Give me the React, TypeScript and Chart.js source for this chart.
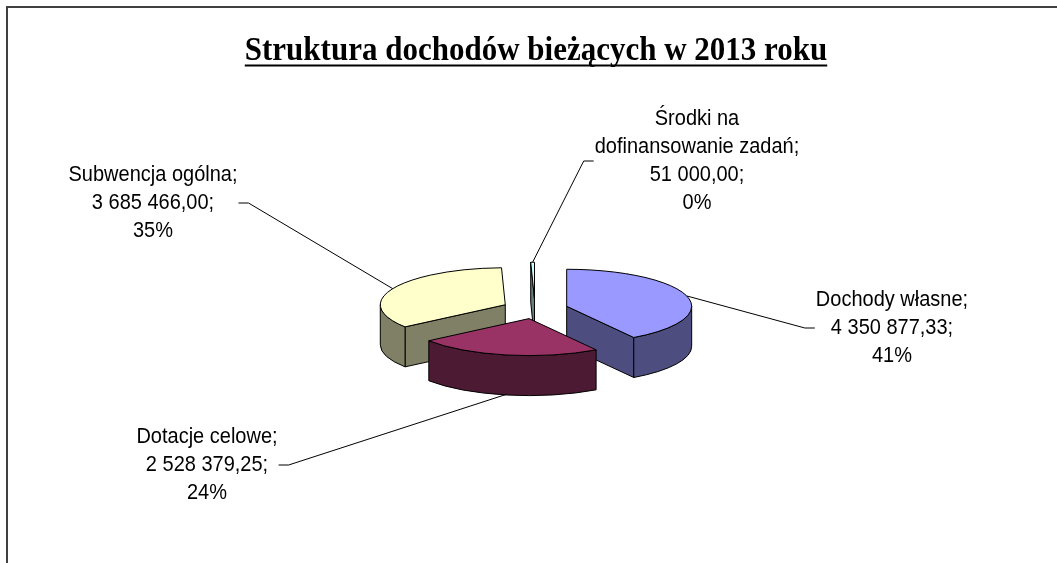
import React, { useEffect, useRef } from 'react';
import { Chart, registerables } from 'chart.js';

Chart.register(...registerables);

// ---------- data ----------
const TITLE = 'Struktura dochodów bieżących w 2013 roku';
const CATEGORIES = ['Dochody własne', 'Dotacje celowe', 'Subwencja ogólna', 'Środki na dofinansowanie zadań'];
const VALUES = [4350877.33, 2528379.25, 3685466.0, 51000.0];
const COLORS = ['#9999FF', '#993366', '#FFFFCC', '#CCFFFF'];

// ---------- layout / style ----------
const W = 1057;
const H = 563;
const RADIUS = 125;
const EXPLODE = 33;
const TILT = 0.296;
const DEPTH = 40;
const LABEL_POS = [
  { x: 892, y: 327 },
  { x: 207, y: 464 },
  { x: 153, y: 202 },
  { x: 697, y: 160 },
];
const LABEL_FONT = '20px "Liberation Sans", Arial, sans-serif';
const LABEL_LH = 27.7;
const LABEL_SY = 1.12;
const LABEL_WRAP = 212;
const TITLE_FONT = 'bold 31px "Liberation Serif", "Times New Roman", serif';
const TITLE_SY = 1.08;

function darken(hex: string, f = 0.5) {
  const n = parseInt(hex.slice(1), 16);
  const r = Math.round(((n >> 16) & 255) * f);
  const g = Math.round(((n >> 8) & 255) * f);
  const b = Math.round((n & 255) * f);
  return `rgb(${r},${g},${b})`;
}

function fmt(v: number) {
  const [i, d] = v.toFixed(2).split('.');
  return i.replace(/\B(?=(\d{3})+(?!\d))/g, ' ') + ',' + d;
}

function wrap(ctx: CanvasRenderingContext2D, text: string, max: number) {
  const words = text.split(' ');
  const lines: string[] = [];
  let cur = '';
  for (const w of words) {
    const t = cur ? cur + ' ' + w : w;
    if (cur && ctx.measureText(t).width > max) {
      lines.push(cur);
      cur = w;
    } else cur = t;
  }
  if (cur) lines.push(cur);
  return lines;
}

function stretchedText(ctx: CanvasRenderingContext2D, text: string, x: number, y: number, sy: number) {
  ctx.save();
  ctx.translate(x, y);
  ctx.scale(1, sy);
  ctx.fillText(text, 0, 0);
  ctx.restore();
}

function getSlices(chart: any) {
  const meta = chart.getDatasetMeta(0);
  return meta.data.map((arc: any, i: number) => {
    const p = arc.getProps(['x', 'y', 'startAngle', 'endAngle', 'outerRadius'], true);
    const off = arc.options.offset || 0;
    const mid = (p.startAngle + p.endAngle) / 2;
    return {
      i,
      s: p.startAngle,
      e: p.endAngle,
      r: p.outerRadius,
      mid,
      cx: p.x + off * Math.cos(mid),
      cy: p.y + off * Math.sin(mid) * TILT,
      color: arc.options.backgroundColor as string,
    };
  });
}

const pie3d = {
  id: 'pie3d',
  beforeDatasetsDraw(chart: any) {
    const ctx: CanvasRenderingContext2D = chart.ctx;
    const slices = getSlices(chart).sort((a: any, b: any) => a.cy - b.cy);
    ctx.save();
    ctx.lineWidth = 1;
    ctx.strokeStyle = '#000';
    ctx.lineJoin = 'round';
    for (const sl of slices) {
      const { cx, cy, r, s, e } = sl;
      const ry = r * TILT;
      const side = darken(sl.color);
      const cut = (t: number) => {
        const px = cx + r * Math.cos(t);
        const py = cy + ry * Math.sin(t);
        ctx.beginPath();
        ctx.moveTo(cx, cy);
        ctx.lineTo(px, py);
        ctx.lineTo(px, py + DEPTH);
        ctx.lineTo(cx, cy + DEPTH);
        ctx.closePath();
        ctx.fillStyle = side;
        ctx.fill();
        ctx.stroke();
      };
      if (Math.cos(s) < -1e-6) cut(s);
      if (Math.cos(e) > 1e-6) cut(e);
      const a = Math.max(s, 0);
      const b = Math.min(e, Math.PI);
      if (b > a) {
        ctx.beginPath();
        ctx.ellipse(cx, cy, r, ry, 0, a, b, false);
        ctx.ellipse(cx, cy + DEPTH, r, ry, 0, b, a, true);
        ctx.closePath();
        ctx.fillStyle = side;
        ctx.fill();
        ctx.stroke();
      }
      ctx.beginPath();
      ctx.moveTo(cx, cy);
      ctx.ellipse(cx, cy, r, ry, 0, s, e, false);
      ctx.closePath();
      ctx.fillStyle = sl.color;
      ctx.fill();
      ctx.stroke();
    }
    ctx.restore();
    return false;
  },
  afterDraw(chart: any) {
    const ctx: CanvasRenderingContext2D = chart.ctx;
    ctx.save();
    // frame
    ctx.strokeStyle = '#404040';
    ctx.lineWidth = 2;
    ctx.beginPath();
    ctx.moveTo(7, H);
    ctx.lineTo(7, 7);
    ctx.lineTo(W, 7);
    ctx.stroke();

    // title
    ctx.fillStyle = '#000';
    ctx.font = TITLE_FONT;
    ctx.textAlign = 'center';
    ctx.textBaseline = 'alphabetic';
    const tx = 536;
    const ty = 60;
    stretchedText(ctx, TITLE, tx, ty, TITLE_SY);
    const tw = ctx.measureText(TITLE).width;
    ctx.fillRect(tx - tw / 2, 64.5, tw, 2);

    // labels and leaders
    const slices = getSlices(chart);
    const total = VALUES.reduce((a, b) => a + b, 0);
    ctx.font = LABEL_FONT;
    for (const sl of slices) {
      const i = sl.i;
      const lines = [
        ...wrap(ctx, CATEGORIES[i] + ';', LABEL_WRAP),
        fmt(VALUES[i]) + ';',
        Math.round((VALUES[i] / total) * 100) + '%',
      ];
      const pos = LABEL_POS[i];
      const maxW = Math.max(...lines.map((l) => ctx.measureText(l).width));
      const first = pos.y - ((lines.length - 1) / 2) * LABEL_LH + 7;
      ctx.fillStyle = '#000';
      ctx.textAlign = 'center';
      lines.forEach((l, k) => stretchedText(ctx, l, pos.x, first + k * LABEL_LH, LABEL_SY));

      const ax = sl.cx + sl.r * Math.cos(sl.mid);
      const ay = sl.cy + sl.r * TILT * Math.sin(sl.mid) + DEPTH * Math.max(0, Math.sin(sl.mid));
      const dir = ax > pos.x ? 1 : -1;
      const x0 = pos.x + dir * (maxW / 2 + 1);
      const ly = pos.y + 1;
      ctx.strokeStyle = '#000';
      ctx.lineWidth = 1;
      ctx.beginPath();
      ctx.moveTo(x0, ly);
      ctx.lineTo(x0 + dir * 10, ly);
      ctx.lineTo(ax, ay);
      ctx.stroke();
    }
    ctx.restore();
  },
};

export default function App() {
  const ref = useRef<HTMLCanvasElement>(null);
  useEffect(() => {
    document.body.style.margin = '0';
    const chart = new Chart(ref.current as HTMLCanvasElement, {
      type: 'pie',
      data: {
        labels: CATEGORIES,
        datasets: [
          {
            data: VALUES,
            backgroundColor: COLORS,
            borderColor: '#000',
            borderWidth: 1,
            offset: EXPLODE,
            radius: RADIUS,
          } as any,
        ],
      },
      options: {
        animation: false,
        responsive: false,
        events: [],
        layout: { padding: { left: 110, right: 97, top: 150, bottom: 95 } },
        plugins: {
          legend: { display: false },
          tooltip: { enabled: false },
          title: { display: false },
        },
      },
      plugins: [pie3d],
    });
    return () => chart.destroy();
  }, []);
  return (
    <div style={{ width: W, height: H, background: '#fff' }}>
      <canvas ref={ref} width={W} height={H} style={{ display: 'block' }} />
    </div>
  );
}
